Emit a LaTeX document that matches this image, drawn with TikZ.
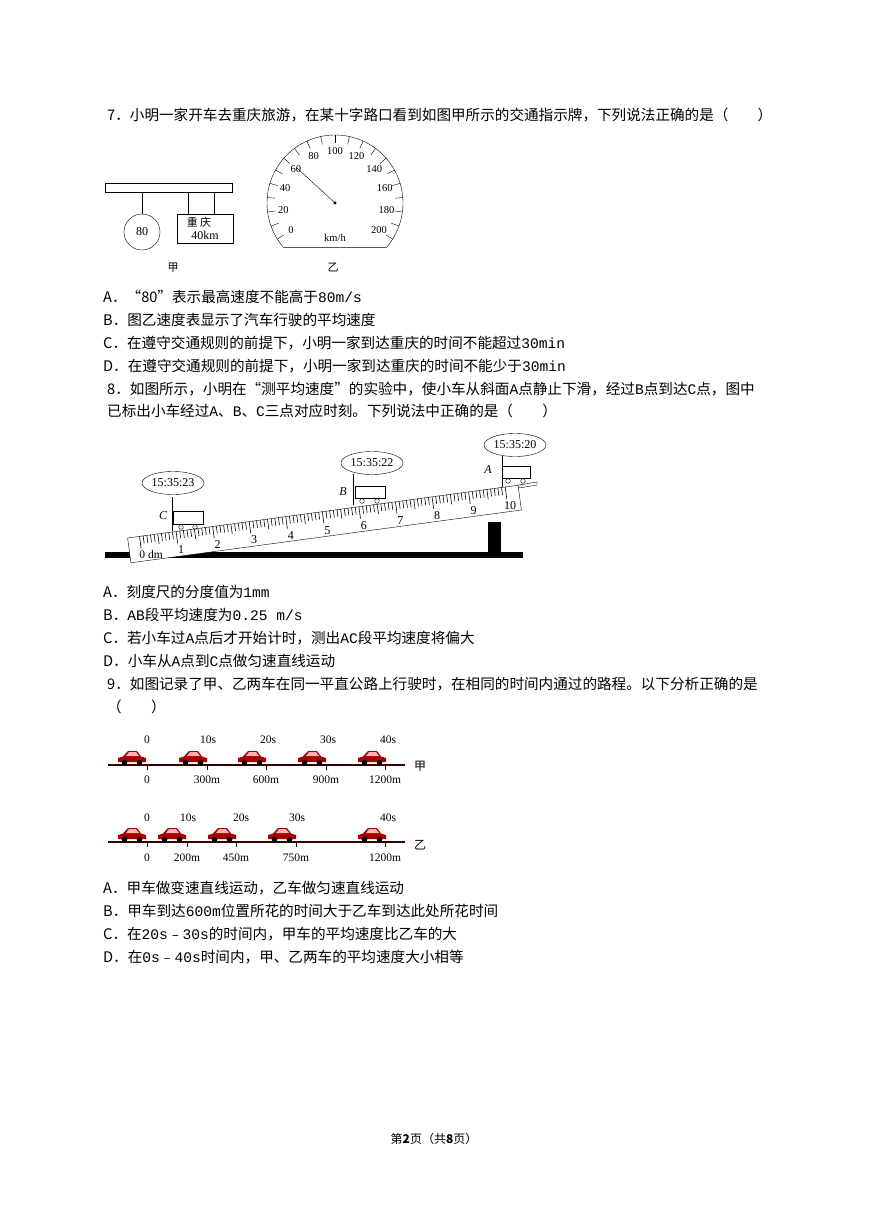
\documentclass[tikz,border=0pt]{standalone}
\usepackage{fontspec}
\usetikzlibrary{shapes.geometric}
\setmainfont{Liberation Serif}
\newfontfamily\cjk{Noto Sans CJK SC}
\newfontfamily\mono{Liberation Mono}
\begin{document}
\begin{tikzpicture}[x=1pt,y=-1pt,
  txt/.style={anchor=west,inner sep=0pt,font=\cjk\fontsize{14.6}{16}\selectfont},
  lab/.style={inner sep=0pt,font=\fontsize{11.5}{12}\selectfont},
  stamp/.style={draw,ellipse,minimum width=62,minimum height=23,inner sep=0pt,font=\fontsize{12}{12}\selectfont},
  pics/carr/.style={code={
    \fill[red!65!black] (-14,-2) -- (-14,-6) -- (-9,-7.5) -- (-4,-13) -- (5,-13) -- (9,-7.5) -- (14,-6) -- (14,-2) -- cycle;
    \fill[red!30!white] (-3,-12) -- (4,-12) -- (7,-8) -- (-6,-8) -- cycle;
    \fill[black] (-7.5,-1.5) circle (2.8) (7.5,-1.5) circle (2.8);}}]
\useasboundingbox (0,0) rectangle (868,1228);
\fill[white] (0,0) rectangle (868,1228);
\node[txt] (q7) at (107,115) {7．小明一家开车去重庆旅游，在某十字路口看到如图甲所示的交通指示牌，下列说法正确的是（　　）};
\draw (105,183) rectangle (232,192);
\draw (142,192) -- (142,214);
\node[draw,circle,minimum size=36,inner sep=0pt,font=\fontsize{12}{12}\selectfont] (c80) at (142,232) {80};
\draw (188,192) -- (188,214) (214,192) -- (214,214);
\draw (177,214) rectangle (233,243);
\node[lab,font=\cjk\fontsize{11}{12}\selectfont] (cq) at (199,222) {重 庆};
\node[lab,font=\fontsize{12}{12}\selectfont] (km) at (205,235) {40km};
\node[lab,font=\cjk\fontsize{11}{12}\selectfont] (jia1) at (173,268) {甲};
\draw plot[domain=-41:221,samples=120] ({335+68*cos(\x)},{203-68*sin(\x)}) -- cycle;
\foreach \k in {0,...,20}{
  \pgfmathsetmacro\a{212-\k*12.2}
  \draw ({335+68*cos(\a)},{203-68*sin(\a)}) -- ({335+60*cos(\a)},{203-60*sin(\a)});}
\foreach \v [count=\k from 0] in {0,20,40,60,80,100,120,140,160,180,200}{
  \pgfmathsetmacro\a{212-\k*24.4}
  \node[lab,font=\fontsize{10.5}{11}\selectfont] at ({335+52*cos(\a)},{203-52*sin(\a)}) {\v};}
\fill (335,203) circle (1.6);
\draw (335,203) -- (297,168);
\node[lab,font=\fontsize{10.5}{11}\selectfont] (kmh) at (335,238) {km/h};
\node[lab,font=\cjk\fontsize{11}{12}\selectfont] (yi1) at (333,268) {乙};
\node[txt] at (103,297) {A．“80”表示最高速度不能高于{\mono 80m/s}};
\node[txt] at (103,320) {B．图乙速度表显示了汽车行驶的平均速度};
\node[txt] at (103,343) {C．在遵守交通规则的前提下，小明一家到达重庆的时间不能超过{\mono 30min}};
\node[txt] at (103,366) {D．在遵守交通规则的前提下，小明一家到达重庆的时间不能少于{\mono 30min}};
\node[txt] at (107,389) {8．如图所示，小明在“测平均速度”的实验中，使小车从斜面{\mono A}点静止下滑，经过{\mono B}点到达{\mono C}点，图中};
\node[txt] at (107,411) {已标出小车经过{\mono A}、{\mono B}、{\mono C}三点对应时刻。下列说法中正确的是（　　）};
\fill (105,552) rectangle (523,558);
\fill (488,522) rectangle (501,555);
\begin{scope}[shift={(139.5,536.4)},rotate=7.7]
  \draw[fill=white] (-12,0) rectangle (382,25);
  \foreach \i in {0,...,100}{
    \pgfmathsetmacro\L{ifthenelse(mod(\i,10)==0,12,ifthenelse(mod(\i,5)==0,10,7.5))}
    \draw[line width=0.6pt] (\i*3.69,0) -- (\i*3.69,\L);}
  \node[lab] at (9,20) {0 dm};
  \foreach \n in {1,...,10}{\node[lab,font=\fontsize{12}{12}\selectfont] at (\n*36.9+2.5,19) {\n};}
\end{scope}
\draw (172,497) -- (172,531);
\draw (173,511) rectangle (203,524);
\draw (181,527) circle (2.3) (195,527) circle (2.3);
\node[lab,font=\itshape\fontsize{12}{12}\selectfont] at (163,516) {C};
\node[stamp] (tc) at (173,483) {15:35:23};
\draw (353,474) -- (353,505);
\draw (355,486) rectangle (385,498);
\draw (362,501) circle (2.3) (377,501) circle (2.3);
\node[lab,font=\itshape\fontsize{12}{12}\selectfont] at (343,492) {B};
\node[stamp] (tb) at (372,463) {15:35:22};
\draw (502,456) -- (502,487);
\draw (502,466) rectangle (530,478);
\draw (508,481) circle (2.3) (523,481) circle (2.3);
\draw (519,485) -- (537,482) -- (537,485) -- (519,488) -- cycle;
\node[lab,font=\itshape\fontsize{12}{12}\selectfont] at (488,470) {A};
\node[stamp] (ta) at (515,445) {15:35:20};
\node[txt] at (103,592) {A．刻度尺的分度值为{\mono 1mm}};
\node[txt] at (103,615) {B．{\mono AB}段平均速度为{\mono 0.25 m/s}};
\node[txt] at (103,638) {C．若小车过{\mono A}点后才开始计时，测出{\mono AC}段平均速度将偏大};
\node[txt] at (103,661) {D．小车从{\mono A}点到{\mono C}点做匀速直线运动};
\node[txt] at (107,684) {9．如图记录了甲、乙两车在同一平直公路上行驶时，在相同的时间内通过的路程。以下分析正确的是};
\node[txt] at (107,707) {（　　）};
\draw[line width=1.4pt,black!80!red] (108,765) -- (405,765);
\foreach \x/\t in {147/0,207/300m,266/600m,326/900m,385/1200m}{
  \draw (\x,765) -- (\x,770); \node[lab] at (\x,780) {\t};}
\foreach \x/\t in {147/0,208/10s,268/20s,328/30s,388/40s}{\node[lab] at (\x,740) {\t};}
\foreach \x in {132,193,252,312,372}{\pic at (\x,764) {carr};}
\node[lab,font=\cjk\fontsize{12}{12}\selectfont] at (420,766) {甲};
\draw[line width=1.4pt,black!80!red] (108,842) -- (405,842);
\foreach \x/\t in {147/0,187/200m,236/450m,296/750m,385/1200m}{
  \draw (\x,842) -- (\x,847); \node[lab] at (\x,858) {\t};}
\foreach \x/\t in {147/0,188/10s,241/20s,297/30s,388/40s}{\node[lab] at (\x,818) {\t};}
\foreach \x in {132,172,222,282,372}{\pic at (\x,841) {carr};}
\node[lab,font=\cjk\fontsize{12}{12}\selectfont] at (420,845) {乙};
\node[txt] at (103,888) {A．甲车做变速直线运动，乙车做匀速直线运动};
\node[txt] at (103,911) {B．甲车到达{\mono 600m}位置所花的时间大于乙车到达此处所花时间};
\node[txt] at (103,934) {C．在{\mono 20s}﹣{\mono 30s}的时间内，甲车的平均速度比乙车的大};
\node[txt] at (103,957) {D．在{\mono 0s}﹣{\mono 40s}时间内，甲、乙两车的平均速度大小相等};
\node[inner sep=0pt,font=\cjk\fontsize{12}{13}\selectfont] (foot) at (434,1139) {第{\bfseries 2}页（共{\bfseries 8}页）};
\end{tikzpicture}
\end{document}
